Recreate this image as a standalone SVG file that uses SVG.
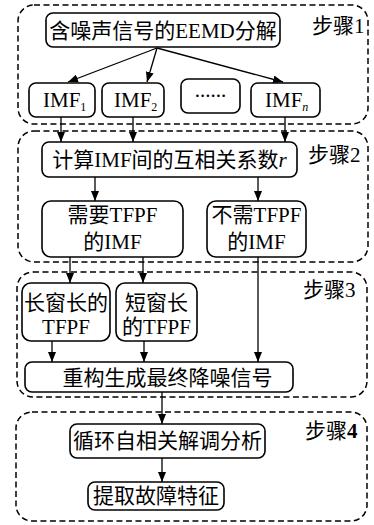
<svg xmlns="http://www.w3.org/2000/svg" width="374" height="525" viewBox="0 0 374 525">
<style>
.step{fill:none;stroke:#000;stroke-width:1.5;stroke-dasharray:6,3.5}
.box{fill:#fff;stroke:#000;stroke-width:1.6}
.t{font-family:"Liberation Serif","Noto Sans CJK SC",serif;font-size:21px;fill:#000;text-anchor:middle}
.lbl{font-family:"Liberation Serif","Noto Sans CJK SC",serif;font-size:21px;fill:#000}
.s{font-family:"Liberation Serif",serif}
.sub{font-size:12px}
.c{fill:none;stroke:#000;stroke-width:1.3;marker-end:url(#ah)}
</style>
<defs>
<marker id="ah" viewBox="0 0 10 8" refX="10" refY="4" markerWidth="10" markerHeight="8" markerUnits="userSpaceOnUse" orient="auto">
<path d="M0,0 L10,4 L0,8 Z" fill="#000"/>
</marker>
</defs>
<g id="steps">
<rect class="step" x="18" y="5" width="350" height="119" rx="16"/>
<text class="lbl" x="312" y="33">步骤<tspan class="s">1</tspan></text>
<rect class="step" x="18" y="131" width="350" height="131" rx="16"/>
<text class="lbl" x="308" y="162">步骤<tspan class="s">2</tspan></text>
<rect class="step" x="17" y="272" width="350" height="125" rx="16"/>
<text class="lbl" x="303" y="297">步骤<tspan class="s">3</tspan></text>
<rect class="step" x="16" y="412" width="351" height="109" rx="16"/>
<text class="lbl" x="305" y="438">步骤<tspan class="s" font-weight="bold">4</tspan></text>
</g>
<g id="connectors">
<path class="c" d="M157,48 L68,82"/>
<path class="c" d="M157,48 L147,82"/>
<path class="c" d="M157,48 L283,82"/>
<path class="c" d="M61,117 L61,142"/>
<path class="c" d="M133,117 L133,142"/>
<path class="c" d="M285,117 L285,142"/>
<path class="c" d="M95,177 L95,201"/>
<path class="c" d="M258,177 L258,201"/>
<path class="c" d="M70,257 L70,283"/>
<path class="c" d="M143,257 L143,283"/>
<path class="c" d="M258,257 L258,362"/>
<path class="c" d="M52,341 L52,362"/>
<path class="c" d="M144,341 L144,362"/>
<path class="c" d="M162,392 L162,424"/>
<path class="c" d="M162,458 L162,482"/>
</g>
<g id="eemd">
<rect class="box" x="46" y="13" width="234" height="34" rx="7"/>
<text class="t" x="163" y="38">含噪声信号的<tspan class="s">EEMD</tspan>分解</text>
</g>
<g id="imf1">
<rect class="box" x="29" y="83" width="66" height="34" rx="7"/>
<text class="lbl s" x="43" y="107">IMF<tspan class="sub" dy="4">1</tspan></text>
</g>
<g id="imf2">
<rect class="box" x="102" y="83" width="62" height="34" rx="7"/>
<text class="lbl s" x="114" y="107">IMF<tspan class="sub" dy="4">2</tspan></text>
</g>
<g id="dots">
<rect class="box" x="181" y="79" width="59" height="34" rx="7"/>
<text class="t s" x="210.5" y="97" font-size="16">......</text>
</g>
<g id="imfn">
<rect class="box" x="251" y="83" width="69" height="34" rx="7"/>
<text class="lbl s" x="265" y="107">IMF<tspan class="sub" dy="4" font-style="italic">n</tspan></text>
</g>
<g id="corr">
<rect class="box" x="42" y="142" width="255" height="35" rx="7"/>
<text class="t" x="169.5" y="167">计算<tspan class="s">IMF</tspan>间的互相关系数<tspan class="s" font-style="italic">r</tspan></text>
</g>
<g id="need">
<rect class="box" x="42" y="201" width="141" height="56" rx="9"/>
<text class="t" x="112.5" y="222">需要<tspan class="s">TFPF</tspan></text>
<text class="t" x="112.5" y="249">的<tspan class="s">IMF</tspan></text>
</g>
<g id="noneed">
<rect class="box" x="207" y="201" width="99" height="56" rx="9"/>
<text class="t" x="256.5" y="222">不需<tspan class="s">TFPF</tspan></text>
<text class="t" x="256.5" y="249">的<tspan class="s">IMF</tspan></text>
</g>
<g id="long">
<rect class="box" x="22" y="283" width="88" height="58" rx="9"/>
<text class="t" x="66" y="310">长窗长的</text>
<text class="t s" x="66" y="334">TFPF</text>
</g>
<g id="short">
<rect class="box" x="116" y="283" width="81" height="58" rx="9"/>
<text class="t" x="156.5" y="310">短窗长</text>
<text class="t" x="156.5" y="334">的<tspan class="s">TFPF</tspan></text>
</g>
<g id="recon">
<rect class="box" x="25" y="362" width="268" height="30" rx="7"/>
<text class="t" x="167.5" y="385">重构生成最终降噪信号</text>
</g>
<g id="cyclic">
<rect class="box" x="70" y="424" width="195" height="34" rx="7"/>
<text class="t" x="167.5" y="448">循环自相关解调分析</text>
</g>
<g id="extract">
<rect class="box" x="88" y="482" width="136" height="28" rx="7"/>
<text class="t" x="156" y="503">提取故障特征</text>
</g>
</svg>
